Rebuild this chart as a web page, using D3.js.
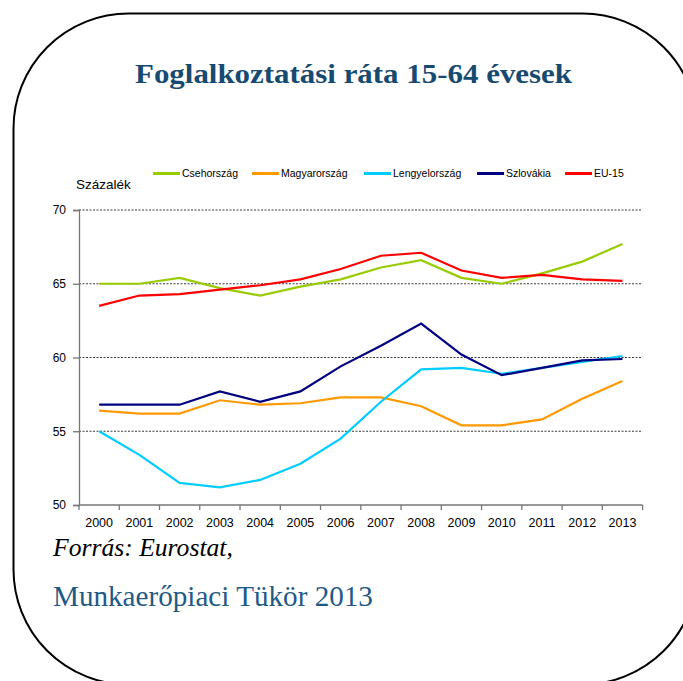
<!DOCTYPE html>
<html>
<head>
<meta charset="utf-8">
<script src="https://cdn.jsdelivr.net/npm/d3@7"></script>
<style>
html,body{margin:0;padding:0;background:#fff;}
svg{display:block;}
</style>
</head>
<body>
<script>
const years = ["2000","2001","2002","2003","2004","2005","2006","2007","2008","2009","2010","2011","2012","2013"];
const csehorszag   = [65.0,65.0,65.4,64.7,64.2,64.8,65.3,66.1,66.6,65.4,65.0,65.7,66.5,67.7];
const magyarorszag = [56.4,56.2,56.2,57.1,56.8,56.9,57.3,57.3,56.7,55.4,55.4,55.8,57.2,58.4];
const lengyelorszag= [55.0,53.4,51.5,51.2,51.7,52.8,54.5,57.0,59.2,59.3,58.9,59.3,59.7,60.1];
const szlovakia    = [56.8,56.8,56.8,57.7,57.0,57.7,59.4,60.8,62.3,60.2,58.8,59.3,59.8,59.9];
const eu15         = [63.5,64.2,64.3,64.6,64.9,65.3,66.0,66.9,67.1,65.9,65.4,65.6,65.3,65.2];
const seriesNames  = ["Csehország","Magyarország","Lengyelország","Szlovákia","EU-15"];
const seriesColors = ["#99cc00","#ff9900","#00ccff","#000080","#ff0000"];
const yTicks = [50,55,60,65,70];
const titleText = "Foglalkoztatási ráta 15-64 évesek";
const yLabel = "Százalék";
const source1 = "Forrás: Eurostat,";
const source2 = "Munkaerőpiaci Tükör 2013";

(function(){
const W = 683, H = 681;
const svg = d3.select("body").append("svg").attr("width", W).attr("height", H);

// rounded frame
svg.append("rect").attr("x",13.5).attr("y",13.5).attr("width",684).attr("height",671)
  .attr("rx",115).attr("ry",115).attr("fill","none").attr("stroke","#000").attr("stroke-width",2);

function fitText(sel, targetW){
  const w = sel.node().getComputedTextLength();
  const fs = parseFloat(sel.attr("font-size"));
  sel.attr("font-size", (fs*targetW/w).toFixed(2));
}

// title
svg.append("text").attr("x",135).attr("y",83)
  .attr("font-family","'Liberation Serif','DejaVu Serif',serif").attr("font-weight","bold")
  .attr("font-size",27.5).attr("fill","#174a70")
  .attr("textLength",437).attr("lengthAdjust","spacingAndGlyphs").text(titleText);

const pL = 79, pR = 642.6, pT = 210, pB = 505;
const x = d3.scaleBand().domain(years).range([pL,pR]).padding(0);
const y = d3.scaleLinear().domain([50,70]).range([pB,pT]);
const bw = x.bandwidth();

// gridlines
svg.append("g").selectAll("line").data(yTicks.filter(v=>v>50)).join("line")
  .attr("x1",pL).attr("x2",pR).attr("y1",d=>y(d)).attr("y2",d=>y(d))
  .attr("stroke","#3a3a3a").attr("stroke-width",1).attr("stroke-dasharray","2,1.5");

// y axis
const ya = svg.append("g").attr("transform",`translate(${pL},0)`)
  .call(d3.axisLeft(y).tickValues(yTicks).tickSize(6).tickPadding(7).tickFormat(d3.format("d")));
ya.select(".domain").attr("stroke","#777").attr("stroke-width",1.3);
ya.selectAll(".tick line").attr("stroke","#777").attr("stroke-width",1.3);
ya.selectAll(".tick text").attr("font-family","'Liberation Sans',Arial,sans-serif").attr("font-size",12).attr("fill","#000");

// x axis
const xa = svg.append("g").attr("transform",`translate(0,${pB})`);
xa.append("line").attr("x1",pL).attr("x2",pR).attr("stroke","#777").attr("stroke-width",1.3);
xa.selectAll("line.tk").data(years.concat(["end"])).join("line").attr("class","tk")
  .attr("x1",d=>d==="end"?pR:x(d)).attr("x2",d=>d==="end"?pR:x(d))
  .attr("y1",0).attr("y2",5).attr("stroke","#777").attr("stroke-width",1.3);
xa.selectAll("text").data(years).join("text")
  .attr("x",d=>x(d)+bw/2).attr("y",18).attr("dy","0.35em").attr("text-anchor","middle")
  .attr("font-family","'Liberation Sans',Arial,sans-serif").attr("font-size",12.5).attr("fill","#000")
  .text(d=>d);

// y label
svg.append("text").attr("x",76).attr("y",189)
  .attr("font-family","'Liberation Sans',Arial,sans-serif").attr("font-size",13.5).attr("fill","#000").text(yLabel);

// lines
const data = [csehorszag,magyarorszag,lengyelorszag,szlovakia,eu15];
const line = d3.line().x((d,i)=>x(years[i])+bw/2).y(d=>y(d));
svg.append("g").selectAll("path").data(data).join("path")
  .attr("d",line).attr("fill","none").attr("stroke",(d,i)=>seriesColors[i])
  .attr("stroke-width",2.2).attr("stroke-linejoin","miter");

// legend
const legX = [153,252,364,477,565];
const lg = svg.append("g").selectAll("g").data(seriesNames).join("g")
  .attr("transform",(d,i)=>`translate(${legX[i]},173.5)`);
lg.append("line").attr("x1",0).attr("x2",27).attr("stroke",(d,i)=>seriesColors[i]).attr("stroke-width",3);
lg.append("text").attr("x",29).attr("dy","0.35em")
  .attr("font-family","'Liberation Sans',Arial,sans-serif").attr("font-size",10.5).attr("fill","#000")
  .text(d=>d);

// source
const s1 = svg.append("text").attr("x",53).attr("y",556)
  .attr("font-family","'Liberation Serif','DejaVu Serif',serif").attr("font-style","italic")
  .attr("font-size",21).attr("fill","#000").text(source1);
fitText(s1, 180);
const s2 = svg.append("text").attr("x",53).attr("y",606)
  .attr("font-family","'Liberation Serif','DejaVu Serif',serif")
  .attr("font-size",21).attr("fill","#1f5a86").text(source2);
fitText(s2, 320);
})();
</script>
</body>
</html>
